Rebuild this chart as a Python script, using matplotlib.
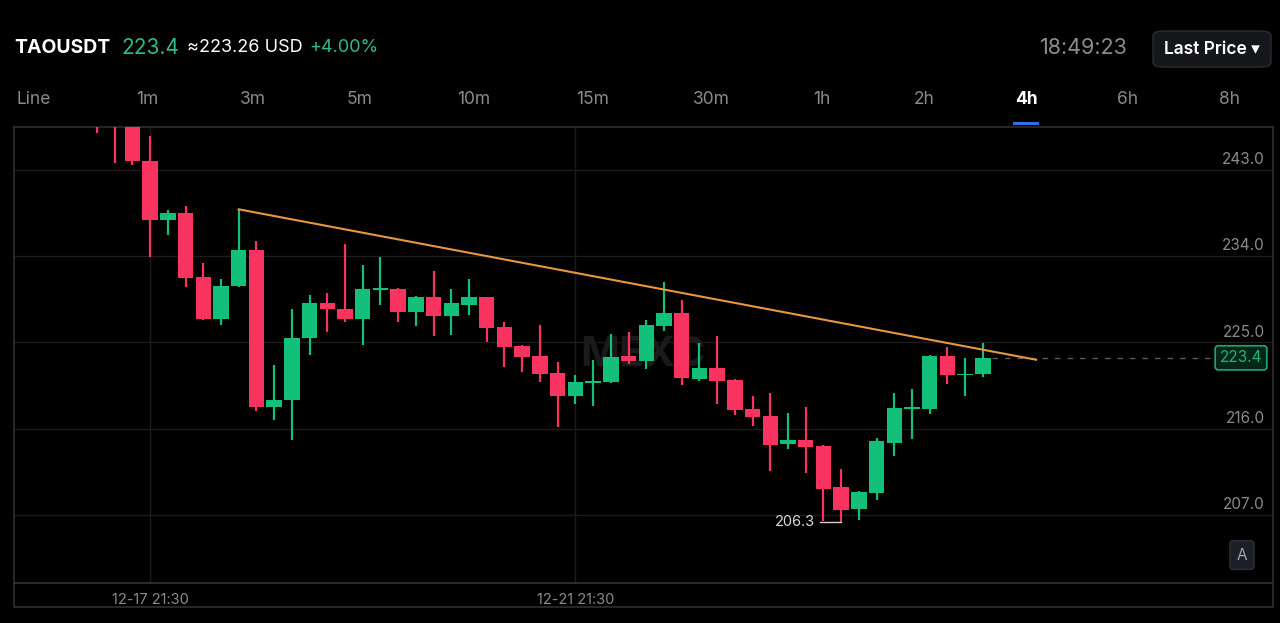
import matplotlib.pyplot as plt
from matplotlib.patches import Rectangle, FancyBboxPatch
import numpy as np

plt.rcParams['font.family'] = ['Inter', 'DejaVu Sans']

# 4h candles, index 0 is the first (partly hidden) candle on the left
opens = [250.8, 249.8, 248.2, 243.9, 237.8, 238.5, 231.8, 227.4, 230.9, 234.7,
         218.3, 219.0, 225.5, 229.1, 228.5, 227.5, 230.5, 230.6, 228.2, 229.8,
         227.8, 228.9, 229.7, 226.6, 224.6, 223.6, 221.8, 219.4, 220.8, 220.9,
         223.6, 223.1, 226.7, 228.1, 221.2, 222.3, 221.1, 218.1, 217.3, 214.4,
         214.8, 214.2, 209.9, 207.6, 209.3, 214.5, 218.1, 218.1, 223.6, 221.6,
         221.7]
highs = [251.5, 251.0, 249.0, 246.6, 238.8, 239.2, 233.3, 231.6, 238.9, 235.6,
         222.7, 228.5, 230.0, 230.2, 235.3, 233.1, 233.9, 230.7, 229.9, 232.5,
         230.6, 231.6, 229.8, 227.1, 224.7, 226.8, 223.0, 221.6, 223.2, 225.9,
         226.1, 227.3, 231.3, 229.4, 224.9, 225.7, 221.2, 219.4, 219.7, 217.6,
         218.3, 214.3, 211.8, 209.5, 215.0, 219.7, 220.1, 223.7, 224.5, 223.4,
         224.9]
lows = [246.9, 243.7, 243.5, 233.9, 236.2, 230.8, 227.3, 226.8, 230.8, 217.8,
        216.9, 214.8, 223.7, 226.1, 227.1, 224.7, 228.9, 227.1, 226.7, 225.7,
        225.8, 227.9, 225.0, 222.4, 221.9, 220.9, 216.2, 218.6, 218.4, 220.8,
        222.8, 222.2, 226.2, 220.6, 221.0, 218.6, 217.4, 216.3, 211.6, 213.9,
        211.4, 206.4, 206.3, 206.5, 208.6, 213.2, 214.9, 217.5, 220.7, 219.4,
        221.4]
closes = [248.6, 248.2, 243.9, 237.8, 238.5, 231.7, 227.4, 230.9, 234.7, 218.3,
          219.0, 225.5, 229.1, 228.5, 227.5, 230.6, 230.6, 228.2, 229.8, 227.8,
          229.1, 229.7, 226.5, 224.5, 223.5, 221.7, 219.4, 220.9, 220.9, 223.5,
          223.1, 226.8, 228.1, 221.3, 222.3, 221.0, 218.0, 217.2, 214.3, 214.8,
          214.1, 209.7, 207.5, 209.4, 214.7, 218.2, 218.2, 223.6, 221.6, 221.7,
          223.4]

price_ticks = [243.0, 234.0, 225.0, 216.0, 207.0]
date_ticks = [3, 27]
date_labels = ["12-17 21:30", "12-21 21:30"]
trend_x = [8, 53]
trend_y = [238.9, 223.2]
last_price = 223.4
low_idx, low_price = 42, 206.3

tabs = ["Line", "1m", "3m", "5m", "10m", "15m", "30m", "1h", "2h", "4h", "6h", "8h"]
tab_x = [34, 147, 253, 360, 474, 593, 711, 822, 924, 1026, 1128, 1230]

UP = '#13c07a'
DOWN = '#f8335f'
GRID = '#1c1c1c'
BORDER = '#2e2e2e'
LABEL = '#8a8a8a'

W, H = 1280, 623


def fx(x):
    return x / W


def fy(y):
    return 1 - y / H


fig = plt.figure(figsize=(12.8, 6.23), dpi=100, facecolor='black')
ax = fig.add_axes([fx(14), fy(583), (1273 - 14) / W, (583 - 127) / H])
ax.set_facecolor('black')
ax.set_xlim(-4.68, 66.37)
ax.set_ylim(199.9, 247.49)

for v in price_ticks:
    ax.axhline(v, color=GRID, lw=1, zorder=0)
for d in date_ticks:
    ax.axvline(d, color=GRID, lw=1, zorder=0)

x = np.arange(len(opens))
o = np.array(opens)
c = np.array(closes)
colors = [UP if cc >= oo else DOWN for oo, cc in zip(o, c)]
ax.vlines(x, lows, highs, colors=colors, lw=1.6, zorder=3)
bottoms = np.minimum(o, c)
heights = np.maximum(np.abs(c - o), 0.15)
ax.bar(x, heights, bottom=bottoms, width=0.87, color=colors, lw=0, zorder=4)

# trend line
ax.plot(trend_x, trend_y, color='#e8963f', lw=1.5, zorder=5)

# last price dashed line
ax.plot([50.5, 63.4], [last_price, last_price], color='#5a5a5a', lw=1,
        ls=(0, (4, 5)), zorder=2)
ax.annotate(f"{last_price:.1f}", xy=(0.9746, last_price),
            xycoords=('axes fraction', 'data'), ha='center', va='center',
            fontsize=11, color='#1fb574',
            bbox=dict(boxstyle='round,pad=0.3,rounding_size=0.2',
                      fc='#04251a', ec='#1fa86c', lw=1.2), zorder=6)

# lowest price marker
ax.plot([low_idx - 1.2, low_idx], [low_price, low_price], color='#d0d0d0', lw=1, zorder=5)
ax.text(low_idx - 1.45, low_price, f"{low_price}", color='#d8d8d8', fontsize=10.5,
        ha='right', va='center', zorder=6)

# price labels on the right
for v in price_ticks:
    ax.annotate(f"{v:.1f}", xy=(0.9936, v), xycoords=('axes fraction', 'data'),
                xytext=(0, 2), textcoords='offset points', ha='right', va='bottom',
                fontsize=11, color=LABEL)

# watermark
ax.text(0.5, 0.5, "MEXC", transform=ax.transAxes, fontsize=30, fontweight='bold',
        color='#1a1a1a', ha='center', va='center', zorder=1)

ax.set_yticks([])
ax.set_xticks(date_ticks)
ax.set_xticklabels(date_labels, color=LABEL, fontsize=10.5)
ax.tick_params(axis='x', length=0, pad=7)
for s in ax.spines.values():
    s.set_color(BORDER)
    s.set_linewidth(1.2)

# bottom strip border
fig.add_artist(Rectangle((fx(14), fy(607)), (1273 - 14) / W, (607 - 583) / H,
                         transform=fig.transFigure, fill=False, ec=BORDER, lw=1.2))

# header
fig.text(fx(14), fy(48), "TAOUSDT", color='white', fontsize=14, fontweight='bold', va='center')
fig.text(fx(121), fy(48), "223.4", color='#2ebd85', fontsize=15, va='center')
fig.text(fx(187), fy(48), "≈223.26 USD", color='white', fontsize=13, va='center')
fig.text(fx(309), fy(48), "+4.00%", color='#2ebd85', fontsize=13, va='center')
fig.text(fx(1128), fy(48), "18:49:23", color='#8c8c8c', fontsize=15.5, va='center', ha='right')
fig.add_artist(FancyBboxPatch((fx(1153), fy(67)), (1271 - 1153) / W, (67 - 31) / H,
                              boxstyle='round,pad=0,rounding_size=0.008',
                              transform=fig.transFigure, fc='#15171b', ec='#2a2d33', lw=1))
fig.text(fx(1212), fy(49), "Last Price ▾", color='white', fontsize=12.5, fontweight='semibold',
         va='center', ha='center')

# interval tabs
for t, tx in zip(tabs, tab_x):
    active = t == "4h"
    fig.text(fx(tx), fy(100), t, color='white' if active else LABEL, fontsize=12.5,
             fontweight='bold' if active else 'normal', ha='center', va='center')
fig.add_artist(Rectangle((fx(1013), fy(125)), 26 / W, 3 / H, transform=fig.transFigure,
                         fc='#2f6fe8', ec='none'))

# "A" button
fig.text(fx(1242), fy(555), "A", color='#a0a6ae', fontsize=11, ha='center', va='center',
         bbox=dict(boxstyle='round,pad=0.45,rounding_size=0.2', fc='#1c1f26', ec='#2a2e36'))

fig.savefig("out.png", dpi=100, facecolor='black')
